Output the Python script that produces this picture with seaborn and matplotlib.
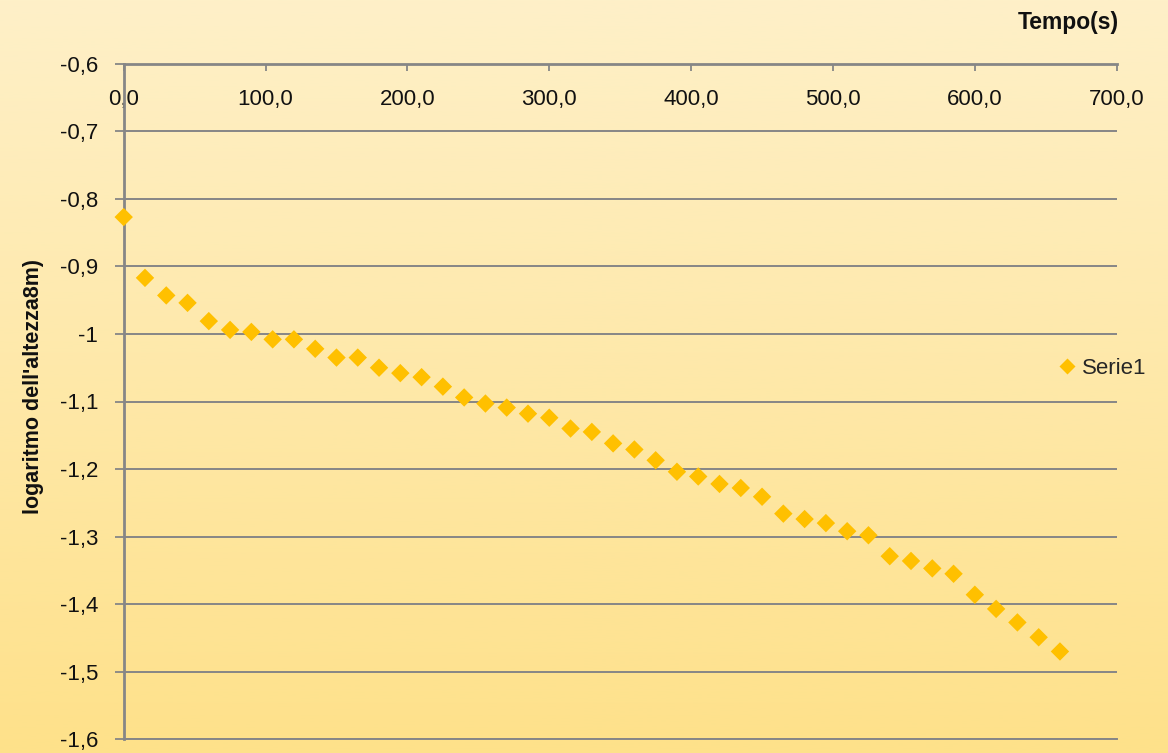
import matplotlib
matplotlib.use("Agg")
import numpy as np
import pandas as pd
import matplotlib.pyplot as plt
import seaborn as sns
from matplotlib.ticker import FuncFormatter, MultipleLocator
from matplotlib.colors import LinearSegmentedColormap
from matplotlib.lines import Line2D

# Measured data: time (s) and log of the liquid height
tempo = [0, 15, 30, 45, 60, 75, 90, 105, 120, 135, 150, 165, 180, 195, 210,
         225, 240, 255, 270, 285, 300, 315, 330, 345, 360, 375, 390, 405, 420,
         435, 450, 465, 480, 495, 510, 525, 540, 555, 570, 585, 600, 615, 630,
         645, 660]
log_altezza = [-0.827, -0.917, -0.943, -0.954, -0.981, -0.994, -0.997, -1.008,
               -1.008, -1.022, -1.035, -1.035, -1.050, -1.058, -1.064, -1.078,
               -1.094, -1.103, -1.109, -1.118, -1.124, -1.140, -1.145, -1.162,
               -1.171, -1.187, -1.204, -1.211, -1.222, -1.228, -1.241, -1.266,
               -1.274, -1.280, -1.292, -1.298, -1.329, -1.336, -1.347, -1.355,
               -1.386, -1.407, -1.427, -1.449, -1.470]
serie_nome = "Serie1"
x_titolo = "Tempo(s)"
y_titolo = "logaritmo dell'altezza8m)"

df = pd.DataFrame({"tempo": tempo, "log_altezza": log_altezza})

sns.set_theme(style="white")
plt.rcParams["font.family"] = ["Liberation Sans", "DejaVu Sans"]

W, H = 1168, 753
fig = plt.figure(figsize=(W / 100, H / 100), dpi=100)

# Vertical warm gradient behind everything
bg = fig.add_axes([0, 0, 1, 1], zorder=-10)
cmap = LinearSegmentedColormap.from_list("warm", ["#FEE18A", "#FEF0C8"])
grad = np.linspace(0, 1, 256).reshape(-1, 1)
bg.imshow(grad, aspect="auto", cmap=cmap, origin="lower", extent=[0, 1, 0, 1])
bg.set_axis_off()

left, right = 123.7 / W, 1116.7 / W
top, bottom = 1 - 63.7 / H, 1 - 739.3 / H
ax = fig.add_axes([left, bottom, right - left, top - bottom])
ax.set_facecolor("none")

gold = "#FFC000"
grey = "#868686"

sns.scatterplot(data=df, x="tempo", y="log_altezza", marker="D", s=88,
                color=gold, edgecolor="none", linewidth=0, ax=ax,
                legend=False, zorder=3, clip_on=False)

ax.set_xlim(0, 700)
ax.set_ylim(-1.6, -0.6)
ax.xaxis.set_major_locator(MultipleLocator(100))
ax.yaxis.set_major_locator(MultipleLocator(0.1))


def fmt_x(v, pos):
    return f"{v:.1f}".replace(".", ",")


def fmt_y(v, pos):
    r = round(v, 1)
    if abs(r - round(r)) < 1e-9:
        return f"{int(round(r))}"
    return f"{r:.1f}".replace(".", ",")


ax.xaxis.set_major_formatter(FuncFormatter(fmt_x))
ax.yaxis.set_major_formatter(FuncFormatter(fmt_y))

# Axis at the top (y = -0.6) with labels hanging below it
ax.xaxis.set_ticks_position("top")
ax.tick_params(axis="x", which="major", direction="in", length=5, width=1.3,
               color=grey, labelsize=16, labelcolor="#111111", pad=-33,
               top=True, bottom=False, labeltop=True, labelbottom=False)
ax.tick_params(axis="y", which="major", direction="out", length=6.5, width=1.3,
               color=grey, labelsize=16, labelcolor="#111111", pad=12,
               left=True, right=False)

ax.grid(axis="y", color=grey, linewidth=1.4)
ax.grid(axis="x", visible=False)
ax.set_axisbelow(True)

ax.spines["right"].set_visible(False)
ax.spines["bottom"].set_color(grey)
ax.spines["bottom"].set_linewidth(1.4)
for side in ["left", "top"]:
    ax.spines[side].set_color(grey)
    ax.spines[side].set_linewidth(2)

ax.set_xlabel(x_titolo, fontsize=16.5, fontweight="bold", color="#111111")
ax.xaxis.set_label_position("top")
ax.xaxis.set_label_coords(0.951, 1.052)

ax.set_ylabel(y_titolo, fontsize=15.5, fontweight="bold", color="#111111")
ax.yaxis.set_label_coords(-0.080, 0.522)

handle = Line2D([], [], marker="D", linestyle="none", markersize=8.5,
                markerfacecolor=gold, markeredgecolor="none")
fig.legend([handle], [serie_nome], loc="center left",
           bbox_to_anchor=(1058 / W, 1 - 368 / H), frameon=False,
           fontsize=16, handlelength=0.8, handletextpad=0.3,
           borderpad=0, borderaxespad=0)

fig.savefig("out.png", dpi=100)
